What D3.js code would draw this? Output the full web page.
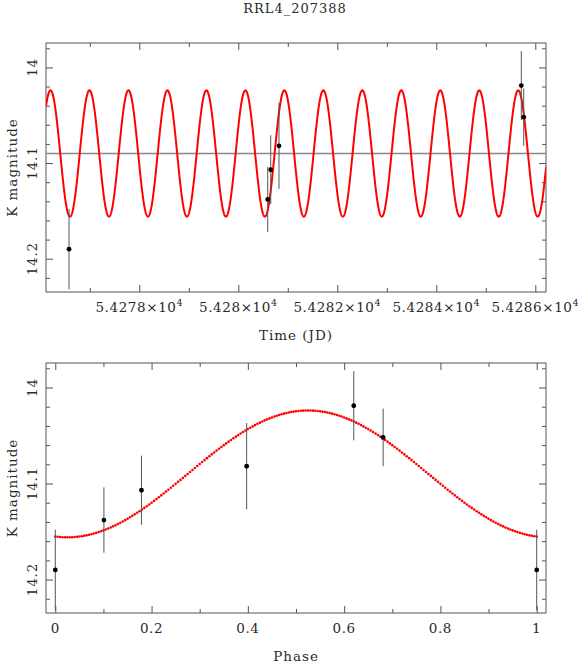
<!DOCTYPE html>
<html><head><meta charset="utf-8">
<script src="https://cdn.jsdelivr.net/npm/d3@7"></script>
<style>body{margin:0;background:#fff} text{font-family:"DejaVu Serif",serif;fill:#2a2a2a}</style>
</head><body>
<svg id="c" width="581" height="664"></svg>
<script>
const title = "RRL4_207388";
const timeJD    = [54276.58, 54280.594, 54280.655, 54280.822, 54285.717, 54285.766];
const magTime   = [14.190, 14.138, 14.107, 14.082, 14.019, 14.052];
const errTime   = [0.042, 0.034, 0.036, 0.045, 0.036, 0.030];
const phase     = [0, 0.101, 0.179, 0.3975, 0.620, 0.681, 1];
const magPhase  = [14.190, 14.138, 14.107, 14.082, 14.019, 14.052, 14.190];
const errPhase  = [0.042, 0.034, 0.036, 0.045, 0.036, 0.030, 0.042];
const modelMean = 14.09, modelAmp = 0.066, modelPeriod = 0.7874, modelEpoch = 54276.58, modelPhaseOfMax = 0.525;
const timeMajorTicks = [54278, 54280, 54282, 54284, 54286];
const timeMinorTicks = [54277, 54279, 54281, 54283, 54285];
const timeTickLabels = ["5.4278", "5.428", "5.4282", "5.4284", "5.4286"];
const magMajorTicks = [14, 14.1, 14.2];
const magTickLabels = ["14", "14.1", "14.2"];
const magMinorTicks = [13.98, 14.02, 14.04, 14.06, 14.08, 14.12, 14.14, 14.16, 14.18, 14.22];
const phaseMajorTicks = [0, 0.2, 0.4, 0.6, 0.8, 1];
const phaseTickLabels = ["0", "0.2", "0.4", "0.6", "0.8", "1"];
const phaseMinorTicks = [0.1, 0.3, 0.5, 0.7, 0.9];

const svg = d3.select("#c");
const L = 46, R = 546;
const magDomain = [13.9745, 14.2348];
const modelMag = p => modelMean - modelAmp * Math.cos(2 * Math.PI * (p - modelPhaseOfMax));

svg.append("text").attr("x", 295).attr("y", 13).attr("text-anchor", "middle")
  .attr("font-size", 13).attr("letter-spacing", 1).text(title);

function panel(id, top, bottom, x, xMajor, xMinor, xLabels, sup, xTitle) {
  const y = d3.scaleLinear().domain(magDomain).range([top, bottom]);
  const g = svg.append("g");
  g.append("clipPath").attr("id", id).append("rect")
    .attr("x", L).attr("y", top).attr("width", R - L).attr("height", bottom - top);
  const tk = "#555";
  const addAxis = (axis, tr) => {
    const a = g.append("g").attr("transform", tr).call(axis);
    a.select(".domain").remove();
    a.selectAll("text").remove();
    a.selectAll("line").attr("stroke", tk);
  };
  addAxis(d3.axisBottom(x).tickValues(xMajor).tickSizeInner(-7).tickSizeOuter(0), `translate(0,${bottom})`);
  addAxis(d3.axisBottom(x).tickValues(xMinor).tickSizeInner(-4).tickSizeOuter(0), `translate(0,${bottom})`);
  addAxis(d3.axisTop(x).tickValues(xMajor).tickSizeInner(-7).tickSizeOuter(0), `translate(0,${top})`);
  addAxis(d3.axisTop(x).tickValues(xMinor).tickSizeInner(-4).tickSizeOuter(0), `translate(0,${top})`);
  addAxis(d3.axisLeft(y).tickValues(magMajorTicks).tickSizeInner(-7).tickSizeOuter(0), `translate(${L},0)`);
  addAxis(d3.axisLeft(y).tickValues(magMinorTicks).tickSizeInner(-4).tickSizeOuter(0), `translate(${L},0)`);
  addAxis(d3.axisRight(y).tickValues(magMajorTicks).tickSizeInner(-7).tickSizeOuter(0), `translate(${R},0)`);
  addAxis(d3.axisRight(y).tickValues(magMinorTicks).tickSizeInner(-4).tickSizeOuter(0), `translate(${R},0)`);
  g.append("rect").attr("x", L).attr("y", top).attr("width", R - L).attr("height", bottom - top)
    .attr("fill", "none").attr("stroke", "#555").attr("stroke-width", 1);
  magMajorTicks.forEach((v, i) => {
    g.append("text").attr("transform", `translate(37,${y(v)}) rotate(-90)`)
      .attr("text-anchor", "middle").attr("font-size", 13.5).attr("letter-spacing", 0.8).text(magTickLabels[i]);
  });
  g.append("text").attr("transform", `translate(17,${(top + bottom) / 2}) rotate(-90)`)
    .attr("text-anchor", "middle").attr("font-size", 13.5).attr("letter-spacing", 1).text("K magnitude");
  xMajor.forEach((v, i) => {
    const t = g.append("text").attr("x", x(v)).attr("y", bottom + 20).attr("text-anchor", "middle")
      .attr("font-size", 13.5).attr("letter-spacing", 0.6).text(xLabels[i]);
    if (sup) {
      t.append("tspan").text("\u00d710");
      t.append("tspan").attr("dy", -6).attr("font-size", 9.5).text("4");
    }
  });
  g.append("text").attr("x", (L + R) / 2).attr("y", bottom + 48).attr("text-anchor", "middle")
    .attr("font-size", 13.5).attr("letter-spacing", 1).text(xTitle);
  return {g, y};
}

// ---- top panel: time
const xT = d3.scaleLinear().domain([54276.115, 54286.216]).range([L, R]);
const P1 = panel("clipTop", 43, 292, xT, timeMajorTicks, timeMinorTicks, timeTickLabels, true, "Time (JD)");
const c1 = P1.g.append("g").attr("clip-path", "url(#clipTop)");
c1.append("line").attr("x1", L).attr("x2", R).attr("y1", P1.y(modelMean)).attr("y2", P1.y(modelMean))
  .attr("stroke", "#888").attr("stroke-width", 1.3);
const tSamples = d3.range(xT.domain()[0], xT.domain()[1] + 0.004, 0.004);
c1.append("path").datum(tSamples)
  .attr("d", d3.line().x(t => xT(t)).y(t => P1.y(modelMag((t - modelEpoch) / modelPeriod))))
  .attr("fill", "none").attr("stroke", "#f00").attr("stroke-width", 2);
timeJD.forEach((t, i) => {
  c1.append("line").attr("x1", xT(t)).attr("x2", xT(t))
    .attr("y1", P1.y(magTime[i] - errTime[i])).attr("y2", P1.y(magTime[i] + errTime[i]))
    .attr("stroke", "#555").attr("stroke-width", 1);
});
c1.selectAll("circle.pt").data(timeJD).join("circle").attr("class", "pt")
  .attr("cx", t => xT(t)).attr("cy", (t, i) => P1.y(magTime[i])).attr("r", 2.4).attr("fill", "#000");

// ---- bottom panel: phase
const xP = d3.scaleLinear().domain([-0.0193, 1.0193]).range([L, R]);
const P2 = panel("clipBot", 363, 613, xP, phaseMajorTicks, phaseMinorTicks, phaseTickLabels, false, "Phase");
const c2 = P2.g.append("g").attr("clip-path", "url(#clipBot)");
const pSamples = d3.range(0, 1.0001, 1 / 200);
c2.selectAll("circle.m").data(pSamples).join("circle").attr("class", "m")
  .attr("cx", p => xP(p)).attr("cy", p => P2.y(modelMag(p))).attr("r", 1.3).attr("fill", "#f00");
phase.forEach((p, i) => {
  c2.append("line").attr("x1", xP(p)).attr("x2", xP(p))
    .attr("y1", P2.y(magPhase[i] - errPhase[i])).attr("y2", P2.y(magPhase[i] + errPhase[i]))
    .attr("stroke", "#555").attr("stroke-width", 1);
});
c2.selectAll("circle.pt").data(phase).join("circle").attr("class", "pt")
  .attr("cx", p => xP(p)).attr("cy", (p, i) => P2.y(magPhase[i])).attr("r", 2.4).attr("fill", "#000");
</script>
</body></html>
